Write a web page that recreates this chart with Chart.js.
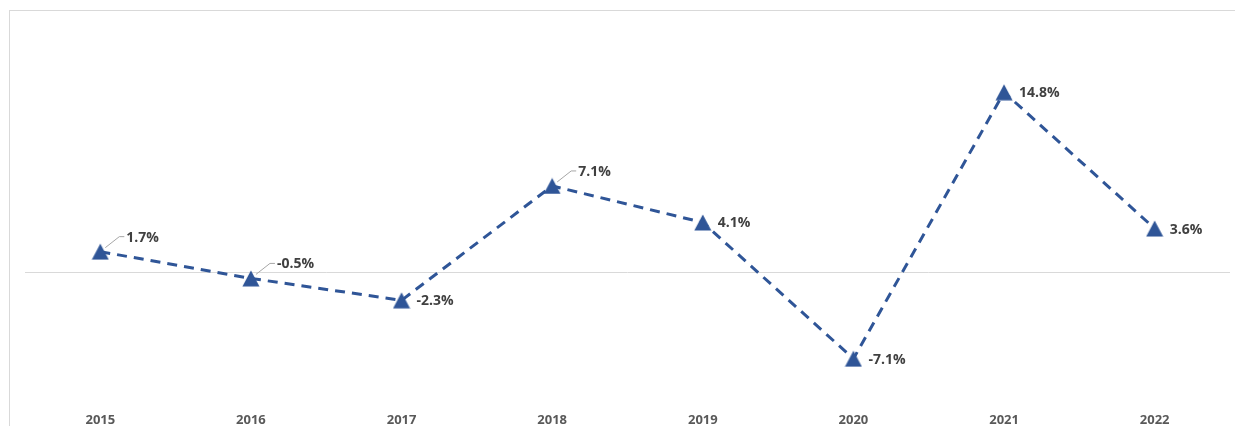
<!DOCTYPE html>
<html>
<head>
<meta charset="utf-8">
<script src="https://cdn.jsdelivr.net/npm/chart.js@4/dist/chart.umd.min.js"></script>
<style>
    body { margin: 0; background: #fff; overflow: hidden; }
    #wrap { position: relative; width: 1235px; height: 426px; }
    #myChart { position: absolute; left: 0; top: 0; }
    #frame { position: absolute; left: 9px; top: 10px; right: 0; bottom: 0; border-top: 1px solid #d9d9d9; border-left: 1px solid #d9d9d9; }
</style>
</head>
<body>
<div id="wrap">
    <canvas id="myChart" width="1235" height="426"></canvas>
    <div id="frame"></div>
</div>
<script>
const years = ['2015', '2016', '2017', '2018', '2019', '2020', '2021', '2022']
const growth = [1.7, -0.5, -2.3, 7.1, 4.1, -7.1, 14.8, 3.6]
const labelText = ['1.7%', '-0.5%', '-2.3%', '7.1%', '4.1%', '-7.1%', '14.8%', '3.6%']

// labels that sit up-right with a small leader line
const withLeader = [0, 1, 3]

// triangle marker centred on its box (chart.js own triangle sits high)
function makeTriangle() {
    let c = document.createElement('canvas')
    c.width = 18
    c.height = 17
    let g = c.getContext('2d')
    g.fillStyle = '#2F5597'
    g.beginPath()
    g.moveTo(9, 0.5)
    g.lineTo(17.5, 16.5)
    g.lineTo(0.5, 16.5)
    g.closePath()
    g.fill()
    return c
}

const pointLabels = {
    id: 'pointLabels',
    afterDatasetsDraw(chart) {
        let ctx = chart.ctx
        let meta = chart.getDatasetMeta(0)
        ctx.save()
        ctx.font = 'bold 14px "Open Sans"'
        ctx.fillStyle = '#404040'
        ctx.textBaseline = 'middle'
        ctx.textAlign = 'left'
        meta.data.forEach((pt, i) => {
            let x = pt.x, y = pt.y
            if (withLeader.includes(i)) {
                ctx.strokeStyle = '#a6a6a6'
                ctx.lineWidth = 1
                ctx.beginPath()
                ctx.moveTo(x + 5, y - 4)
                ctx.lineTo(x + 19, y - 15)
                ctx.lineTo(x + 24, y - 15)
                ctx.stroke()
                ctx.fillText(labelText[i], x + 26, y - 14)
            } else {
                ctx.fillText(labelText[i], x + 15, y + 1)
            }
        })
        ctx.restore()
    }
}

let ctx = document.getElementById('myChart').getContext('2d')
let myChart = new Chart(ctx, {
    type: 'line',
    data: {
        labels: years,
        datasets: [{
            data: growth,
            borderColor: '#2F5597',
            borderWidth: 3,
            borderDash: [10, 7],
            tension: 0,
            pointStyle: makeTriangle(),
            pointRadius: 9,
            pointHoverRadius: 9
        }]
    },
    options: {
        responsive: false,
        animation: false,
        layout: { autoPadding: false, padding: { left: 25, right: 5, top: 29, bottom: 0 } },
        plugins: {
            legend: { display: false },
            tooltip: { enabled: false }
        },
        scales: {
            x: {
                offset: true,
                grid: { display: false, offset: true },
                border: { display: false },
                afterFit: (scale) => {
                    scale.height = 32
                    scale.paddingLeft = 0
                    scale.paddingRight = 0
                },
                ticks: {
                    padding: 10,
                    color: '#595959',
                    font: { family: 'Open Sans', size: 13, weight: 'bold' }
                }
            },
            y: {
                min: -10,
                max: 20,
                border: { display: false },
                grid: {
                    drawTicks: false,
                    color: (c) => c.tick && c.tick.value === 0 ? '#d9d9d9' : 'rgba(0,0,0,0)',
                    lineWidth: 1
                },
                ticks: { display: false, stepSize: 5 }
            }
        }
    },
    plugins: [pointLabels]
})
</script>
</body>
</html>
